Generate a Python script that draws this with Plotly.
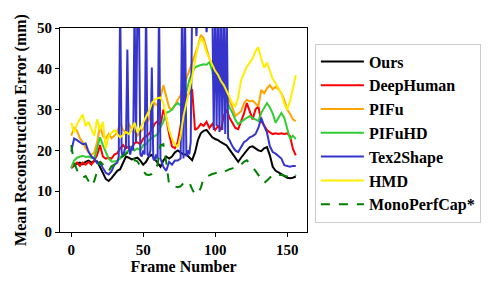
import plotly.graph_objects as go

frames = list(range(0, 157, 2))

ours = [15.7, 16.3, 16.8, 17.0, 16.6, 17.2, 17.5, 17.0, 17.4, 17.3, 16.0, 14.5, 13.0, 12.5, 13.2, 14.2,
        15.0, 15.4, 17.0, 18.5, 18.2, 17.8, 18.0, 18.2, 17.5, 16.5, 17.2, 18.5, 18.9, 18.0, 17.0, 16.0,
        17.5, 18.5, 18.0, 18.5, 19.5, 20.0, 19.5, 19.0, 19.0, 18.2, 17.6, 19.5, 22.5, 24.2, 24.8, 25.0,
        24.2, 23.2, 22.8, 22.5, 22.0, 21.6, 21.2, 20.2, 19.2, 18.0, 17.2, 18.2, 19.2, 20.0, 20.8, 21.0,
        20.5, 20.0, 19.8, 20.5, 20.8, 18.8, 16.0, 15.0, 14.6, 14.2, 13.8, 13.3, 13.2, 13.3, 13.6]

deephuman = [15.7, 16.5, 17.0, 16.2, 17.0, 16.5, 17.2, 16.5, 17.5, 18.9, 21.3, 18.5, 18.0, 18.2, 18.0, 19.0,
             19.3, 20.5, 21.3, 20.5, 21.0, 20.5, 21.8, 22.0, 21.5, 22.9, 23.5, 24.0, 25.0, 26.5, 27.2, 26.0,
             30.0, 28.0, 24.0, 21.0, 20.5, 22.0, 26.0, 30.0, 33.0, 34.0, 35.0, 25.0, 25.5, 26.5, 26.0, 27.0,
             25.5, 26.5, 25.0, 26.0, 25.0, 28.5, 30.0, 28.0, 26.6, 25.5, 25.2, 27.0, 29.0, 31.6, 29.5, 27.6,
             30.0, 30.8, 27.2, 26.0, 25.0, 24.4, 24.0, 24.2, 24.0, 24.2, 24.0, 24.2, 23.5, 20.4, 18.8]

pifu = [23.6, 25.5, 24.8, 23.0, 22.0, 20.5, 19.5, 18.9, 19.5, 22.0, 26.0, 23.5, 22.9, 24.0, 23.0, 23.6,
        24.5, 26.8, 25.0, 24.4, 26.5, 25.2, 24.5, 23.6, 24.5, 25.2, 26.5, 27.6, 30.0, 31.6, 31.0, 33.0,
        36.0, 33.0, 30.5, 30.0, 31.0, 32.4, 33.5, 35.6, 37.5, 39.5, 41.5, 43.5, 45.5, 48.3, 47.5, 45.0,
        42.5, 41.0, 38.8, 37.5, 36.5, 35.6, 34.0, 32.4, 30.5, 28.4, 29.0, 29.6, 31.5, 32.4, 32.0, 32.2,
        31.5, 30.8, 34.8, 34.0, 35.2, 36.0, 35.0, 35.6, 35.0, 34.0, 32.4, 30.0, 29.0, 27.6, 27.2]

pifuhd = [15.7, 17.5, 18.2, 18.5, 18.7, 18.4, 18.5, 18.2, 18.0, 20.5, 23.2, 21.3, 19.5, 18.0, 17.3, 17.3,
          17.5, 18.0, 19.3, 19.5, 20.0, 20.9, 20.0, 20.5, 20.0, 21.3, 21.5, 22.5, 23.0, 23.6, 24.0, 25.6,
          27.0, 29.2, 29.5, 30.0, 31.0, 31.6, 31.0, 31.6, 34.5, 37.2, 39.0, 40.3, 40.7, 41.0, 41.1, 41.0,
          41.6, 39.5, 34.4, 34.5, 34.0, 33.0, 32.4, 30.5, 29.2, 27.5, 26.4, 27.0, 27.6, 28.0, 28.4, 28.0,
          27.5, 27.2, 29.2, 30.5, 31.6, 30.5, 29.0, 26.8, 28.0, 29.2, 28.0, 25.0, 22.8, 23.6, 22.8]

hmd = [26.8, 24.4, 26.5, 27.5, 28.8, 26.0, 27.0, 25.2, 23.6, 27.6, 25.0, 27.0, 20.5, 23.6, 24.4, 25.0,
       24.0, 23.2, 23.8, 24.5, 24.0, 25.0, 26.8, 24.4, 25.5, 26.8, 28.0, 29.6, 31.6, 32.4, 32.8, 33.0,
       31.6, 28.5, 25.0, 22.8, 21.5, 20.8, 23.6, 28.4, 31.5, 34.5, 38.0, 42.0, 45.5, 47.5, 46.5, 44.0,
       42.5, 41.0, 39.5, 38.5, 37.0, 36.0, 34.5, 33.0, 31.5, 30.8, 33.0, 37.2, 39.0, 40.5, 41.5, 42.5,
       44.3, 45.3, 42.5, 40.3, 41.5, 39.5, 37.5, 36.4, 35.0, 34.0, 31.5, 30.0, 32.0, 35.6, 38.4]

monoperfcap = [21.3, 17.0, 15.2, 14.1, 13.3, 13.7, 12.5, 11.3, 12.5, 14.9, 17.3, 16.5, 15.5, 14.9, 16.1, 16.5,
               16.9, 18.0, 18.5, 19.2, 19.7, 18.8, 17.6, 17.3, 16.0, 15.0, 14.1, 14.0, 14.2, 15.3, 16.5, 21.2,
               21.5, 17.2, 11.6, 11.3, 11.2, 11.0, 11.2, 12.0, 12.4, 12.2, 10.5, 9.2, 9.5, 10.8, 13.2, 13.6,
               14.0, 14.2, 14.4, 14.6, 14.4, 14.8, 15.0, 15.4, 15.6, 15.8, 16.0, 16.5, 17.2, 17.6, 16.8, 16.0,
               15.0, 14.0, 13.0, 12.0, 12.6, 13.2, 14.0, 14.2, 14.0, 14.0, 13.8, 13.6, 13.4, 13.2, 14.0]

tex2shape_frames = [0, 2, 4, 6, 8, 10, 12, 14, 16, 18, 20, 22, 24, 26, 28, 30, 32, 33, 34, 35, 36, 37, 38,
                    39, 40, 41, 42, 43, 44, 45, 46, 47, 48, 49, 50, 51, 52, 53, 54, 55, 56, 57, 58, 59, 60,
                    61, 62, 63, 64, 66, 68, 70, 72, 74, 76, 77, 78, 79, 80, 81, 82, 83, 84, 85, 86, 87, 88,
                    89, 90, 91, 92, 93, 94, 95, 96, 97, 98, 99, 100, 101, 102, 103, 104, 105, 106, 107, 108,
                    109, 110, 112, 114, 116, 118, 120, 122, 124, 126, 128, 130, 132, 134, 136, 138, 140,
                    142, 144, 146, 148, 150, 152, 154, 156]
tex2shape = [19.7, 22.9, 22.5, 22.0, 21.5, 21.7, 19.7, 18.5, 18.0, 16.9, 17.0, 15.7, 14.5, 14.1, 14.9, 16.5,
             17.0, 18.5, 56.0, 19.5, 18.5, 20.0, 21.0, 44.7, 20.5, 19.0, 21.0, 20.0, 56.0, 22.0, 56.0, 56.0,
             19.0, 18.5, 20.0, 19.0, 56.0, 19.0, 18.5, 20.0, 40.3, 18.0, 17.5, 19.0, 18.0, 56.0, 18.0, 17.0,
             16.0, 15.0, 17.2, 16.5, 17.5, 17.5, 18.0, 56.0, 18.0, 56.0, 18.5, 20.0, 19.0, 22.0, 56.0, 52.0,
             56.0, 48.0, 56.0, 55.0, 56.0, 50.0, 56.0, 56.0, 49.0, 56.0, 56.0, 52.0, 56.0, 25.0, 56.0, 26.0,
             56.0, 24.5, 56.0, 25.0, 56.0, 24.0, 56.0, 23.0, 22.5, 21.0, 20.0, 19.6, 21.0, 22.0, 22.5, 23.2,
             23.5, 24.0, 25.5, 28.0, 26.0, 24.4, 21.0, 19.6, 19.2, 18.5, 18.0, 16.4, 16.2, 16.0, 16.2, 16.2]

font = "Liberation Serif"
fig = go.Figure()
series = [
    ("Ours", frames, ours, "black", "solid"),
    ("DeepHuman", frames, deephuman, "#ff0000", "solid"),
    ("PIFu", frames, pifu, "#ffa500", "solid"),
    ("PIFuHD", frames, pifuhd, "#32cd32", "solid"),
    ("Tex2Shape", tex2shape_frames, tex2shape, "#3535cc", "solid"),
    ("HMD", frames, hmd, "#ffee00", "solid"),
    ("MonoPerfCap*", frames, monoperfcap, "#008000", "dash"),
]
for name, xs, ys, color, dash in series:
    fig.add_trace(go.Scatter(x=xs, y=ys, mode="lines", name=name,
                             line=dict(color=color, width=2, dash=dash)))

axis_common = dict(showline=True, linecolor="black", linewidth=1, mirror=True,
                   ticks="outside", ticklen=4, tickcolor="black", showgrid=False, zeroline=False,
                   tickfont=dict(family=font, size=15, color="black", weight="bold"))
fig.update_xaxes(range=[-7.8, 163.8], tickvals=[0, 50, 100, 150],
                 title=dict(text="Frame Number", font=dict(family=font, size=16, color="black", weight="bold"), standoff=0),
                 **axis_common)
fig.update_yaxes(range=[0, 50], tickvals=[0, 10, 20, 30, 40, 50],
                 title=dict(text="Mean Reconstruction Error (mm)", font=dict(family=font, size=16, color="black", weight="bold"), standoff=6),
                 **axis_common)
# page body has an 8px margin, so the figure is shifted by 8px right and down
fig.update_layout(
    width=490, height=283,
    margin=dict(l=52, r=191, t=15, b=59),
    plot_bgcolor="white", paper_bgcolor="white",
    font=dict(family=font, size=15, color="black"),
    legend=dict(x=1.032, y=0.924, xanchor="left", yanchor="top",
                bordercolor="#cccccc", borderwidth=1, bgcolor="white",
                font=dict(family=font, size=16, color="black", weight="bold"), itemwidth=43),
)
fig.write_html("out.html")
